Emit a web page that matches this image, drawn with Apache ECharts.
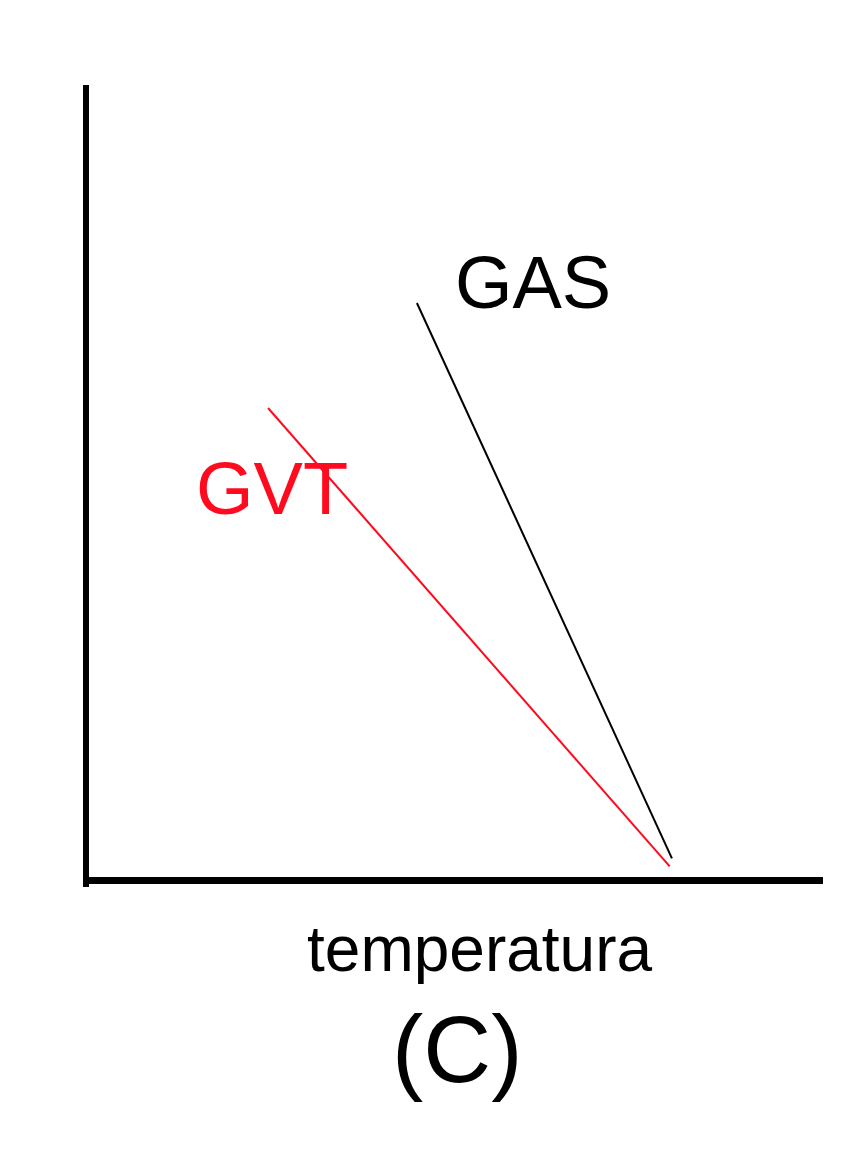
<!DOCTYPE html>
<html>
<head>
<meta charset="utf-8">
<script src="https://cdn.jsdelivr.net/npm/echarts@6/dist/echarts.min.js"></script>
<style>html,body{margin:0;padding:0;background:#fff;}#c{width:868px;height:1152px;}</style>
</head>
<body>
<div id="c"></div>
<script>
var seriesNames = ['GAS', 'GVT'];
var gasLine = [[44.9, 72.6], [79.5, 2.8]];
var gvtLine = [[24.7, 59.4], [79.2, 1.8]];
var xAxisTitle = 'temperatura';
var panelLabel = '(C)';

var chart = echarts.init(document.getElementById('c'), null, {renderer: 'canvas'});
var FONT = '"Liberation Sans", Arial, sans-serif';

function startLabel(text, color, offset) {
  return {
    show: true,
    formatter: text,
    position: 'inside',
    offset: offset,
    color: color,
    fontFamily: FONT,
    fontSize: 74,
    align: 'left',
    verticalAlign: 'middle'
  };
}

var option = {
  backgroundColor: '#ffffff',
  animation: false,
  grid: {left: 86, top: 85, width: 737, height: 802, containLabel: false},
  xAxis: {
    type: 'value', min: 0, max: 100,
    axisLine: {show: true, onZero: true, lineStyle: {color: '#000', width: 7, cap: 'butt'}},
    axisTick: {show: false}, axisLabel: {show: false}, splitLine: {show: false}
  },
  yAxis: {
    type: 'value', min: -0.8, max: 100,
    axisLine: {show: true, onZero: false, lineStyle: {color: '#000', width: 6, cap: 'butt'}},
    axisTick: {show: false}, axisLabel: {show: false}, splitLine: {show: false}
  },
  series: [
    {
      name: seriesNames[0], type: 'line', showSymbol: true, symbolSize: 0,
      lineStyle: {color: '#000000', width: 2},
      itemStyle: {color: '#000000'},
      data: [
        {value: gasLine[0], label: startLabel(seriesNames[0], '#000000', [38, -15])},
        {value: gasLine[1]}
      ]
    },
    {
      name: seriesNames[1], type: 'line', showSymbol: true, symbolSize: 0,
      lineStyle: {color: '#ff0a1e', width: 2},
      itemStyle: {color: '#ff0a1e'},
      data: [
        {value: gvtLine[0], label: startLabel(seriesNames[1], '#ff0a1e', [-72, 86])},
        {value: gvtLine[1]}
      ]
    }
  ],
  graphic: [
    {type: 'text', left: 307, top: 921,
     style: {text: xAxisTitle, fill: '#000', font: '64px ' + FONT}},
    {type: 'text', left: 392, top: 1009,
     style: {text: panelLabel, fill: '#000', font: '94px ' + FONT}}
  ]
};
chart.setOption(option);
</script>
</body>
</html>
